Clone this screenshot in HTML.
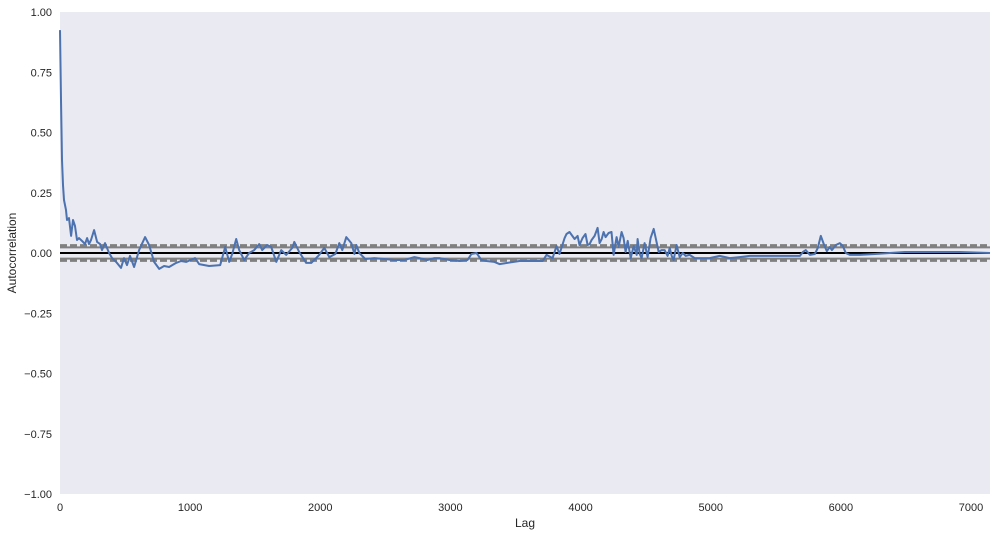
<!DOCTYPE html>
<html><head><meta charset="utf-8"><style>
body{margin:0;background:#fff;font-family:"Liberation Sans",sans-serif;}
svg text{font-family:"Liberation Sans",sans-serif;fill:#262626;}
</style></head><body>
<svg id="chart" width="998" height="537" xmlns="http://www.w3.org/2000/svg">
<rect x="60" y="12" width="930" height="482" fill="#eaeaf2"/>
<g id="bands"></g>
<g id="ticks"></g>
<path id="series" fill="none" stroke="#4c72b0" stroke-width="2" stroke-linejoin="round"/>
<text x="525" y="527" font-size="12" text-anchor="middle">Lag</text>
<text transform="translate(16,253) rotate(-90)" font-size="12" text-anchor="middle">Autocorrelation</text>
</svg>
<script>
const lags=[0,8,15,23,31,46,54,69,85,100,115,131,146,177,192,208,223,238,262,285,308,323,346,377,400,431,469,492,515,538,569,608,654,685,723,762,800,838,892,931,969,1038,1069,1146,1231,1269,1300,1323,1354,1377,1415,1454,1492,1531,1554,1592,1623,1662,1700,1738,1785,1800,1838,1892,1931,1992,2031,2069,2115,2146,2169,2200,2238,2262,2277,2300,2346,2415,2492,2569,2646,2723,2762,2823,2877,2915,2992,3069,3131,3162,3200,3238,3277,3338,3377,3531,3708,3738,3785,3815,3838,3877,3892,3915,3954,3977,3992,4015,4038,4054,4069,4085,4108,4131,4146,4162,4177,4192,4215,4238,4254,4277,4292,4315,4331,4346,4362,4385,4408,4431,4438,4454,4469,4492,4515,4538,4562,4577,4600,4623,4646,4669,4685,4700,4715,4738,4762,4785,4808,4838,4877,4915,4992,5069,5146,5223,5300,5377,5531,5685,5708,5731,5762,5800,5823,5846,5869,5892,5915,5931,5962,5992,6015,6038,6069,6146,6262,6377,6492,6685,6915,7146];
const acf=[0.925,0.635,0.386,0.282,0.22,0.178,0.137,0.145,0.071,0.137,0.112,0.054,0.062,0.046,0.037,0.062,0.037,0.054,0.095,0.046,0.037,0.012,0.041,0,-0.021,-0.037,-0.062,-0.021,-0.05,-0.012,-0.058,0.012,0.066,0.033,-0.037,-0.066,-0.054,-0.058,-0.041,-0.033,-0.037,-0.021,-0.046,-0.054,-0.05,0.025,-0.037,-0.004,0.058,0.012,-0.029,0,0.012,0.037,0.012,0.033,0.025,-0.037,0.012,-0.008,0.021,0.046,0.004,-0.041,-0.041,-0.008,0.021,-0.017,-0.004,0.041,0.012,0.066,0.041,-0.004,0.033,0,-0.025,-0.021,-0.025,-0.029,-0.029,-0.017,-0.021,-0.029,-0.021,-0.021,-0.029,-0.033,-0.029,-0.004,0,-0.029,-0.033,-0.037,-0.046,-0.033,-0.033,-0.008,-0.021,0.029,-0.004,0.062,0.079,0.087,0.058,0.071,0.033,0.062,0.079,0.033,0.037,0.054,0.071,0.104,0.041,0.058,0.087,0.066,0.083,0.087,-0.008,0.066,0.025,0.087,0.062,0.004,0.05,-0.021,0.029,-0.008,0.058,-0.004,-0.021,0.041,-0.017,0.062,0.1,0.062,0.004,0.012,0.012,-0.012,0.021,-0.012,-0.029,0.033,-0.017,0,-0.012,-0.008,-0.021,-0.021,-0.021,-0.012,-0.021,-0.017,-0.012,-0.012,-0.012,-0.012,0.004,0.012,-0.008,-0.004,0.021,0.071,0.037,0.008,0.025,0.012,0.033,0.041,0.029,-0.000,-0.008,-0.008,-0.004,0,0.004,0.004,0.004,0];
const xTicks=[0,1000,2000,3000,4000,5000,6000,7000];
const yTicks=[-1,-0.75,-0.5,-0.25,0,0.25,0.5,0.75,1];
const bandLevels=[0.0232,0.0305];
const X0=60,X1=990,Y0=12,Y1=494,XMAX=7146;
const sx=v=>X0+(v/XMAX)*(X1-X0);
const sy=v=>Y0+(1-v)/2*(Y1-Y0);
const NS="http://www.w3.org/2000/svg";
const bands=document.getElementById('bands');
function line(y,stroke,w,dash,name){
  const l=document.createElementNS(NS,'line');
  l.setAttribute('x1',X0);l.setAttribute('x2',X1);l.setAttribute('y1',y);l.setAttribute('y2',y);
  l.setAttribute('stroke',stroke);l.setAttribute('stroke-width',w);
  if(dash)l.setAttribute('stroke-dasharray',dash);
  
  
  bands.appendChild(l);
}
line(sy(bandLevels[0]),'#808080',2,null,'confidence-95-upper');
line(sy(-bandLevels[0]),'#808080',2,null,'confidence-95-lower');
line(sy(bandLevels[1]),'#808080',3,'7,3','confidence-99-upper');
line(sy(-bandLevels[1]),'#808080',3,'7,3','confidence-99-lower');
line(sy(0),'#000',2,null,'zero-line');
const ticks=document.getElementById('ticks');
xTicks.forEach(t=>{
  const e=document.createElementNS(NS,'text');
  e.setAttribute('x',sx(t));e.setAttribute('y',511);e.setAttribute('font-size','11');e.setAttribute('text-anchor','middle');
  e.textContent=t;
  
  
  ticks.appendChild(e);
});
yTicks.forEach(t=>{
  const e=document.createElementNS(NS,'text');
  e.setAttribute('x',52);e.setAttribute('y',sy(t)+4);e.setAttribute('font-size','11');e.setAttribute('text-anchor','end');
  e.textContent=(t<0?'\u2212':'')+Math.abs(t).toFixed(2);
  
  
  ticks.appendChild(e);
});
document.getElementById('series').setAttribute('d',lags.map((l,i)=>(i?'L':'M')+sx(l).toFixed(1)+','+sy(acf[i]).toFixed(1)).join(''));
</script>
</body></html>
